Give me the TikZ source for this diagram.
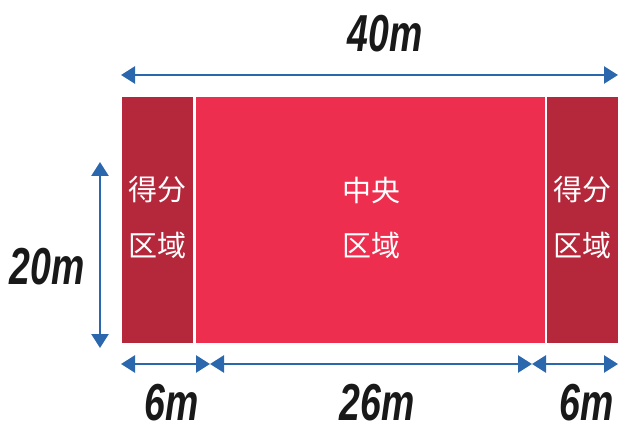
\documentclass[tikz,border=0pt]{standalone}
\usepackage{fontspec}
\setmainfont{Liberation Sans}
\newfontfamily\cjk{Noto Sans CJK SC}
\usetikzlibrary{arrows.meta}
\definecolor{sidered}{HTML}{B5283B}
\definecolor{midred}{HTML}{EE2E4F}
\definecolor{arrowblue}{HTML}{2A67AC}
\newcommand{\dimtext}[1]{\scalebox{0.72}[1]{\bfseries\itshape #1}}
\tikzset{
  zone/.style={draw=none, inner sep=0pt, anchor=north west},
  zonelabel/.style={text=white, font=\cjk\fontsize{29}{29}\selectfont, align=center},
  dimarrow/.style={draw=arrowblue, line width=2.6pt,
    {Triangle[width=17pt,length=14pt]}-{Triangle[width=17pt,length=14pt]}},
  dimlabel/.style={text=black!90, font=\fontsize{52}{52}\selectfont, inner sep=0pt}
}
\begin{document}
\begin{tikzpicture}[x=1pt,y=-1pt]
\useasboundingbox (0,0) rectangle (618,422);
% zones
\node[zone, fill=sidered, minimum width=71pt, minimum height=246pt] (lz) at (122,97) {};
\node[zone, fill=midred, minimum width=349pt, minimum height=246pt] (cz) at (196,97) {};
\node[zone, fill=sidered, minimum width=71pt, minimum height=246pt] (rz) at (547,97) {};
% zone labels
\node[zonelabel] (lzl1) at (157,190) {得分};
\node[zonelabel] (lzl2) at (157,245) {区域};
\node[zonelabel] (czl1) at (371,190) {中央};
\node[zonelabel] (czl2) at (371,245) {区域};
\node[zonelabel] (rzl1) at (582,190) {得分};
\node[zonelabel] (rzl2) at (582,245) {区域};
% arrow endpoints
\coordinate (tl) at (121,75);
\coordinate (tr) at (618,75);
\coordinate (vt) at (100,162);
\coordinate (vb) at (100,348);
\coordinate (b0) at (121,364);
\coordinate (b1) at (210,364);
\coordinate (b2) at (532,364);
\coordinate (b3) at (618,364);
\draw[dimarrow] (tl) -- (tr);
\draw[dimarrow] (vt) -- (vb);
\draw[dimarrow] (b0) -- (b1);
\draw[dimarrow] (b1) -- (b2);
\draw[dimarrow] (b2) -- (b3);
% labels
\node[dimlabel] (l40) at (385,34) {\dimtext{40m}};
\node[dimlabel] (l20) at (47,267) {\dimtext{20m}};
\node[dimlabel] (l6a) at (172,403) {\dimtext{6m}};
\node[dimlabel] (l26) at (377,403) {\dimtext{26m}};
\node[dimlabel] (l6b) at (587,403) {\dimtext{6m}};
\end{tikzpicture}
\end{document}
